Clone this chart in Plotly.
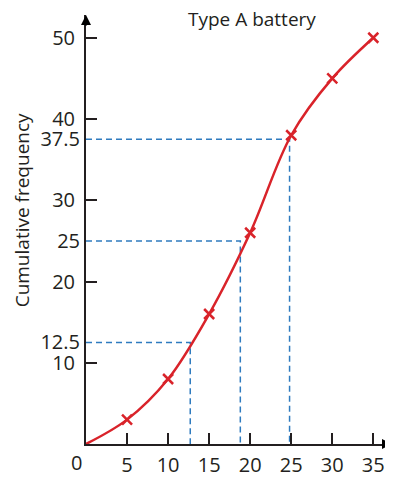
import plotly.graph_objects as go

# Data
lifetime = [0, 5, 10, 15, 20, 25, 30, 35]
cum_freq = [0, 3, 8, 16, 26, 38, 45, 50]
marked_x = [5, 10, 15, 20, 25, 30, 35]
marked_y = [3, 8, 16, 26, 38, 45, 50]
quart_y = [12.5, 25, 37.5]
quart_x = [12.7, 18.8, 24.8]
x_ticks = [5, 10, 15, 20, 25, 30, 35]
y_ticks = [10, 20, 30, 40, 50]

RED = "#d9232a"
BLUE = "#2f7bbf"
FONT = "Open Sans"
TXT = "#231f20"
TICK_SIZE = 20

fig = go.Figure()

for qx, qy in zip(quart_x, quart_y):
    fig.add_trace(go.Scatter(x=[0, qx, qx], y=[qy, qy, 0], mode="lines",
                             line=dict(color=BLUE, width=1.5, dash="6px,4px"),
                             hoverinfo="skip", showlegend=False))

fig.add_trace(go.Scatter(x=lifetime, y=cum_freq, mode="lines",
                         line=dict(color=RED, width=2.5, shape="spline", smoothing=1.0),
                         showlegend=False))
fig.add_trace(go.Scatter(x=marked_x, y=marked_y, mode="markers",
                         marker=dict(symbol="x-thin", size=10, line=dict(color=RED, width=2.5)),
                         showlegend=False))

# secondary axis for quartile labels (no tick marks)
fig.add_trace(go.Scatter(x=[None], y=[None], yaxis="y2", showlegend=False))

fig.update_layout(
    width=385, height=470,
    margin=dict(l=78, r=0, t=7, b=30),
    paper_bgcolor="white", plot_bgcolor="white",
    font=dict(family=FONT, size=TICK_SIZE, color=TXT),
    xaxis=dict(range=[0, 37.4], tickvals=x_ticks, ticktext=[str(v) for v in x_ticks],
               ticks="inside", ticklen=11, tickwidth=1.5, tickcolor=TXT,
               showline=True, linecolor=TXT, linewidth=2, showgrid=False, zeroline=False,
               ticklabelstandoff=2,
               tickfont=dict(family=FONT, size=TICK_SIZE, color=TXT)),
    yaxis=dict(range=[0, 52.8], tickvals=y_ticks, ticktext=[str(v) for v in y_ticks],
               ticks="inside", ticklen=11, tickwidth=1.5, tickcolor=TXT,
               showline=True, linecolor=TXT, linewidth=2, showgrid=False, zeroline=False,
               ticklabelstandoff=5,
               tickfont=dict(family=FONT, size=TICK_SIZE, color=TXT)),
    yaxis2=dict(range=[0, 52.8], overlaying="y", side="left", anchor="x",
                tickvals=quart_y, ticktext=[str(v) for v in quart_y],
                ticks="", showline=False, showgrid=False, zeroline=False,
                ticklabelstandoff=5,
                tickfont=dict(family=FONT, size=TICK_SIZE, color=TXT)),
)

fig.add_annotation(text="0", x=0, y=0, xref="x", yref="y", showarrow=False,
                   xanchor="center", yanchor="top", xshift=-10, yshift=-3,
                   font=dict(family=FONT, size=TICK_SIZE, color=TXT))
fig.add_annotation(text="Type A battery", x=0.54, y=0.99, xref="paper", yref="paper",
                   showarrow=False, xanchor="center", yanchor="middle",
                   font=dict(family=FONT, size=19, color=TXT))
fig.add_annotation(text="Cumulative frequency", x=-0.208, y=0.545, xref="paper", yref="paper",
                   showarrow=False, textangle=-90, xanchor="center", yanchor="middle",
                   font=dict(family=FONT, size=19, color=TXT))

# axis arrowheads
fig.add_annotation(x=1, y=0, xref="paper", yref="paper", ax=-12, ay=0,
                   axref="pixel", ayref="pixel", text="", showarrow=True,
                   arrowhead=2, arrowsize=1, arrowwidth=2, arrowcolor="black")
fig.add_annotation(x=0, y=1, xref="paper", yref="paper", ax=0, ay=12,
                   axref="pixel", ayref="pixel", text="", showarrow=True,
                   arrowhead=2, arrowsize=1, arrowwidth=2, arrowcolor="black")

fig.write_html("out.html")
